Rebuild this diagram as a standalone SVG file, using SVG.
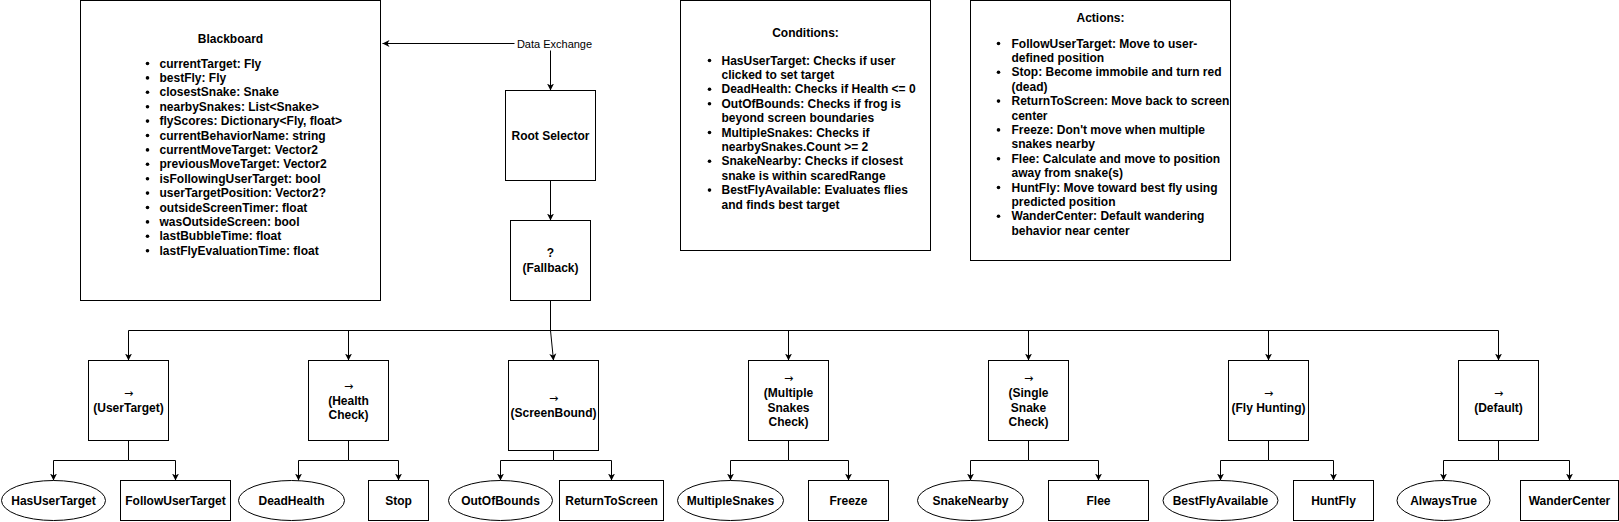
<svg xmlns="http://www.w3.org/2000/svg" width="1619" height="522" viewBox="0 0 1619 522">
<defs>
<style>
.box{fill:#fff;stroke:#000;stroke-width:1}
.t{font-family:"Liberation Sans",Arial,sans-serif;font-size:12px;font-weight:bold;fill:#000;dominant-baseline:central}
.c{text-anchor:middle}
.ar{font-family:"DejaVu Sans","Liberation Sans",sans-serif;font-size:11px;font-weight:normal;fill:#000;dominant-baseline:central;text-anchor:middle}
.lbl{font-family:"Liberation Sans",Arial,sans-serif;font-size:11px;fill:#000;dominant-baseline:central;text-anchor:middle}
.e{fill:none;stroke:#000;stroke-width:1}
.ea{fill:none;stroke:#000;stroke-width:1;marker-end:url(#arr)}
.b{fill:#000}
</style>
<marker id="arr" viewBox="0 0 8 8" refX="7" refY="4" markerWidth="8" markerHeight="8" markerUnits="userSpaceOnUse" orient="auto-start-reverse">
<path d="M0,0.5 L7,4 L0,7.5 L2,4 Z" fill="#000"/>
</marker>
</defs>
<rect width="1619" height="522" fill="#fff"/>
<g transform="translate(0.5,0.5)">
<g id="connectors">
<path class="e" d="M550,90 V43 H382" marker-start="url(#arr)" marker-end="url(#arr)"/>
<rect x="514" y="36" width="81" height="14" fill="#fff"/>
<text class="lbl" x="554" y="43">Data Exchange</text>
<path class="ea" d="M550,180 V220"/>
<path class="ea" d="M550,300 V330 H128 V360"/>
<path class="ea" d="M550,300 V330 H348 V360"/>
<path class="ea" d="M550,300 V330 L553,360"/>
<path class="ea" d="M550,300 V330 H788 V360"/>
<path class="ea" d="M550,300 V330 H1028 V360"/>
<path class="ea" d="M550,300 V330 H1268 V360"/>
<path class="ea" d="M550,300 V330 H1498 V360"/>
<path class="ea" d="M128,440 V460 H53 V480"/>
<path class="ea" d="M128,440 V460 H175 V480"/>
<path class="ea" d="M348,440 V460 H298 V480"/>
<path class="ea" d="M348,440 V460 H398 V480"/>
<path class="ea" d="M553,450 V460 H500 V480"/>
<path class="ea" d="M553,450 V460 H611 V480"/>
<path class="ea" d="M788,440 V460 H730 V480"/>
<path class="ea" d="M788,440 V460 H848 V480"/>
<path class="ea" d="M1028,440 V460 H970 V480"/>
<path class="ea" d="M1028,440 V460 H1098 V480"/>
<path class="ea" d="M1268,440 V460 H1220 V480"/>
<path class="ea" d="M1268,440 V460 H1333 V480"/>
<path class="ea" d="M1498,440 V460 H1443 V480"/>
<path class="ea" d="M1498,440 V460 H1569 V480"/>
</g>

<g id="blackboard">
<rect class="box" x="80" y="0" width="300" height="300"/>
<text class="t c" x="230" y="38">Blackboard</text>
<g class="b">
<circle cx="147" cy="63" r="1.8"/><circle cx="147" cy="77.4" r="1.8"/><circle cx="147" cy="91.8" r="1.8"/><circle cx="147" cy="106.2" r="1.8"/><circle cx="147" cy="120.6" r="1.8"/><circle cx="147" cy="135" r="1.8"/><circle cx="147" cy="149.4" r="1.8"/><circle cx="147" cy="163.8" r="1.8"/><circle cx="147" cy="178.2" r="1.8"/><circle cx="147" cy="192.6" r="1.8"/><circle cx="147" cy="207" r="1.8"/><circle cx="147" cy="221.4" r="1.8"/><circle cx="147" cy="235.8" r="1.8"/><circle cx="147" cy="250.2" r="1.8"/>
</g>
<text class="t" x="159" y="63">currentTarget: Fly</text>
<text class="t" x="159" y="77.4">bestFly: Fly</text>
<text class="t" x="159" y="91.8">closestSnake: Snake</text>
<text class="t" x="159" y="106.2">nearbySnakes: List&lt;Snake&gt;</text>
<text class="t" x="159" y="120.6">flyScores: Dictionary&lt;Fly, float&gt;</text>
<text class="t" x="159" y="135">currentBehaviorName: string</text>
<text class="t" x="159" y="149.4">currentMoveTarget: Vector2</text>
<text class="t" x="159" y="163.8">previousMoveTarget: Vector2</text>
<text class="t" x="159" y="178.2">isFollowingUserTarget: bool</text>
<text class="t" x="159" y="192.6">userTargetPosition: Vector2?</text>
<text class="t" x="159" y="207">outsideScreenTimer: float</text>
<text class="t" x="159" y="221.4">wasOutsideScreen: bool</text>
<text class="t" x="159" y="235.8">lastBubbleTime: float</text>
<text class="t" x="159" y="250.2">lastFlyEvaluationTime: float</text>
</g>

<g id="conditions">
<rect class="box" x="680" y="0" width="250" height="250"/>
<text class="t c" x="805" y="32">Conditions:</text>
<g class="b">
<circle cx="709" cy="60" r="1.8"/><circle cx="709" cy="88.8" r="1.8"/><circle cx="709" cy="103.2" r="1.8"/><circle cx="709" cy="132" r="1.8"/><circle cx="709" cy="160.8" r="1.8"/><circle cx="709" cy="189.6" r="1.8"/>
</g>
<text class="t" x="721" y="60">HasUserTarget: Checks if user</text>
<text class="t" x="721" y="74.4">clicked to set target</text>
<text class="t" x="721" y="88.8">DeadHealth: Checks if Health &lt;= 0</text>
<text class="t" x="721" y="103.2">OutOfBounds: Checks if frog is</text>
<text class="t" x="721" y="117.6">beyond screen boundaries</text>
<text class="t" x="721" y="132">MultipleSnakes: Checks if</text>
<text class="t" x="721" y="146.4">nearbySnakes.Count &gt;= 2</text>
<text class="t" x="721" y="160.8">SnakeNearby: Checks if closest</text>
<text class="t" x="721" y="175.2">snake is within scaredRange</text>
<text class="t" x="721" y="189.6">BestFlyAvailable: Evaluates flies</text>
<text class="t" x="721" y="204">and finds best target</text>
</g>

<g id="actions">
<rect class="box" x="970" y="0" width="260" height="260"/>
<text class="t c" x="1100" y="17">Actions:</text>
<g class="b">
<circle cx="998" cy="43" r="1.8"/><circle cx="998" cy="71.8" r="1.8"/><circle cx="998" cy="100.6" r="1.8"/><circle cx="998" cy="129.4" r="1.8"/><circle cx="998" cy="158.2" r="1.8"/><circle cx="998" cy="187" r="1.8"/><circle cx="998" cy="215.8" r="1.8"/>
</g>
<text class="t" x="1011" y="43">FollowUserTarget: Move to user-</text>
<text class="t" x="1011" y="57.4">defined position</text>
<text class="t" x="1011" y="71.8">Stop: Become immobile and turn red</text>
<text class="t" x="1011" y="86.2">(dead)</text>
<text class="t" x="1011" y="100.6">ReturnToScreen: Move back to screen</text>
<text class="t" x="1011" y="115">center</text>
<text class="t" x="1011" y="129.4">Freeze: Don't move when multiple</text>
<text class="t" x="1011" y="143.8">snakes nearby</text>
<text class="t" x="1011" y="158.2">Flee: Calculate and move to position</text>
<text class="t" x="1011" y="172.6">away from snake(s)</text>
<text class="t" x="1011" y="187">HuntFly: Move toward best fly using</text>
<text class="t" x="1011" y="201.4">predicted position</text>
<text class="t" x="1011" y="215.8">WanderCenter: Default wandering</text>
<text class="t" x="1011" y="230.2">behavior near center</text>
</g>

<g id="root">
<rect class="box" x="505" y="90" width="90" height="90"/>
<text class="t c" x="550" y="135">Root Selector</text>
</g>
<g id="fallback">
<rect class="box" x="510" y="220" width="80" height="80"/>
<text class="t c" x="550" y="252.8">?</text>
<text class="t c" x="550" y="267.2">(Fallback)</text>
</g>

<g id="seq-usertarget">
<rect class="box" x="88" y="360" width="80" height="80"/>
<text class="ar" x="128" y="392.8">→</text>
<text class="t c" x="128" y="407.2">(UserTarget)</text>
</g>
<g id="seq-health">
<rect class="box" x="308" y="360" width="80" height="80"/>
<text class="ar" x="348" y="385.6">→</text>
<text class="t c" x="348" y="400">(Health</text>
<text class="t c" x="348" y="414.4">Check)</text>
</g>
<g id="seq-screenbound">
<rect class="box" x="508" y="360" width="90" height="90"/>
<text class="ar" x="553" y="397.8">→</text>
<text class="t c" x="553" y="412.2">(ScreenBound)</text>
</g>
<g id="seq-multiple">
<rect class="box" x="748" y="360" width="80" height="80"/>
<text class="ar" x="788" y="378.4">→</text>
<text class="t c" x="788" y="392.8">(Multiple</text>
<text class="t c" x="788" y="407.2">Snakes</text>
<text class="t c" x="788" y="421.6">Check)</text>
</g>
<g id="seq-single">
<rect class="box" x="988" y="360" width="80" height="80"/>
<text class="ar" x="1028" y="378.4">→</text>
<text class="t c" x="1028" y="392.8">(Single</text>
<text class="t c" x="1028" y="407.2">Snake</text>
<text class="t c" x="1028" y="421.6">Check)</text>
</g>
<g id="seq-fly">
<rect class="box" x="1228" y="360" width="80" height="80"/>
<text class="ar" x="1268" y="392.8">→</text>
<text class="t c" x="1268" y="407.2">(Fly Hunting)</text>
</g>
<g id="seq-default">
<rect class="box" x="1458" y="360" width="80" height="80"/>
<text class="ar" x="1498" y="392.8">→</text>
<text class="t c" x="1498" y="407.2">(Default)</text>
</g>

<g id="hasusertarget"><ellipse class="box" cx="53" cy="500" rx="52" ry="20"/><text class="t c" x="53" y="500">HasUserTarget</text></g>
<g id="followusertarget"><rect class="box" x="120" y="480" width="110" height="40"/><text class="t c" x="175" y="500">FollowUserTarget</text></g>
<g id="deadhealth"><ellipse class="box" cx="291" cy="500" rx="53" ry="20"/><text class="t c" x="291" y="500">DeadHealth</text></g>
<g id="stop"><rect class="box" x="368" y="480" width="60" height="40"/><text class="t c" x="398" y="500">Stop</text></g>
<g id="outofbounds"><ellipse class="box" cx="500" cy="500" rx="52" ry="20"/><text class="t c" x="500" y="500">OutOfBounds</text></g>
<g id="returntoscreen"><rect class="box" x="559" y="480" width="104" height="40"/><text class="t c" x="611" y="500">ReturnToScreen</text></g>
<g id="multiplesnakes"><ellipse class="box" cx="730" cy="500" rx="53" ry="20"/><text class="t c" x="730" y="500">MultipleSnakes</text></g>
<g id="freeze"><rect class="box" x="808" y="480" width="80" height="40"/><text class="t c" x="848" y="500">Freeze</text></g>
<g id="snakenearby"><ellipse class="box" cx="970" cy="500" rx="53" ry="20"/><text class="t c" x="970" y="500">SnakeNearby</text></g>
<g id="flee"><rect class="box" x="1048" y="480" width="100" height="40"/><text class="t c" x="1098" y="500">Flee</text></g>
<g id="bestflyavailable"><ellipse class="box" cx="1220" cy="500" rx="57.5" ry="20"/><text class="t c" x="1220" y="500">BestFlyAvailable</text></g>
<g id="huntfly"><rect class="box" x="1293" y="480" width="80" height="40"/><text class="t c" x="1333" y="500">HuntFly</text></g>
<g id="alwaystrue"><ellipse class="box" cx="1443" cy="500" rx="46.5" ry="20"/><text class="t c" x="1443" y="500">AlwaysTrue</text></g>
<g id="wandercenter"><rect class="box" x="1520" y="480" width="98" height="40"/><text class="t c" x="1569" y="500">WanderCenter</text></g>
</g>
</svg>
